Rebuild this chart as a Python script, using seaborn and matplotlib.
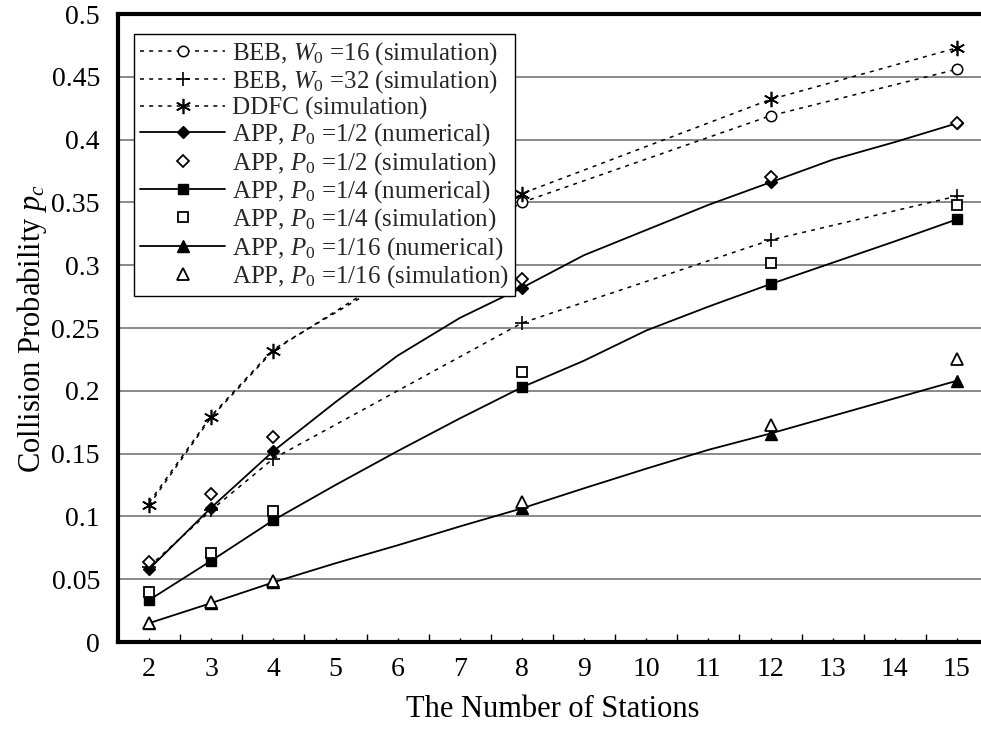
import numpy as np
import pandas as pd
import matplotlib
matplotlib.use("Agg")
import matplotlib.pyplot as plt
import seaborn as sns
from matplotlib.ticker import FixedLocator, FuncFormatter

# ---------------- data ----------------
stations_all = [2, 3, 4, 5, 6, 7, 8, 9, 10, 11, 12, 13, 14, 15]
stations_sim = [2, 3, 4, 8, 12, 15]

beb16_sim = [0.111, 0.180, 0.233, 0.350, 0.419, 0.456]
beb32_sim = [0.060, 0.105, 0.146, 0.254, 0.320, 0.355]
ddfc_sim = [0.109, 0.179, 0.232, 0.357, 0.432, 0.473]

app2_num = [0.058, 0.107, 0.152, 0.191, 0.228, 0.258, 0.282, 0.308, 0.328, 0.348, 0.366, 0.384, 0.398, 0.413]
app2_sim = [0.064, 0.118, 0.163, 0.289, 0.370, 0.413]
app4_num = [0.0334, 0.0647, 0.097, 0.125, 0.152, 0.178, 0.2028, 0.224, 0.248, 0.267, 0.285, 0.302, 0.319, 0.3365]
app4_sim = [0.040, 0.0706, 0.104, 0.215, 0.3015, 0.348]
app16_num = [0.015, 0.031, 0.0475, 0.0627, 0.077, 0.092, 0.1064, 0.1224, 0.138, 0.153, 0.166, 0.180, 0.194, 0.208]
app16_sim = [0.0154, 0.032, 0.0486, 0.1117, 0.1728, 0.225]

labels = [
    r"BEB, $\mathit{W}_{\mathit{0}}$ =16 (simulation)",
    r"BEB, $\mathit{W}_{\mathit{0}}$ =32 (simulation)",
    "DDFC (simulation)",
    r"APP, $\mathit{P}_{\mathit{0}}$ =1/2 (numerical)",
    r"APP, $\mathit{P}_{\mathit{0}}$ =1/2 (simulation)",
    r"APP, $\mathit{P}_{\mathit{0}}$ =1/4 (numerical)",
    r"APP, $\mathit{P}_{\mathit{0}}$ =1/4 (simulation)",
    r"APP, $\mathit{P}_{\mathit{0}}$ =1/16 (numerical)",
    r"APP, $\mathit{P}_{\mathit{0}}$ =1/16 (simulation)",
]
y_ticks = [0, 0.05, 0.1, 0.15, 0.2, 0.25, 0.3, 0.35, 0.4, 0.45, 0.5]

# ---------------- style ----------------
sns.set_theme(style="white")
plt.rcParams["font.family"] = ["Liberation Serif", "DejaVu Serif"]
plt.rcParams["mathtext.fontset"] = "custom"
plt.rcParams["mathtext.rm"] = "Liberation Serif"
plt.rcParams["mathtext.it"] = "Liberation Serif:italic"
plt.rcParams["mathtext.bf"] = "Liberation Serif:bold"

W, H = 981, 740
fig = plt.figure(figsize=(W / 100, H / 100), dpi=100)
left, right, top, bottom = 118, 988, 14, 642
ax = fig.add_axes([left / W, (H - bottom) / H, (right - left) / W, (bottom - top) / H])

mark_idx = [stations_all.index(s) for s in stations_sim]
dash = (0, (2.6, 3.4))
lw_d = 1.1
lw_s = 1.3

def sim_line(y, marker, ms, label, mew=1.1, every=None):
    df = pd.DataFrame({"x": stations_sim, "y": y})
    sns.lineplot(data=df, x="x", y="y", ax=ax, color="black", lw=lw_d, linestyle=dash,
                 marker=marker, markersize=ms, markerfacecolor="white", markeredgecolor="black",
                 markeredgewidth=mew, markevery=every, label=label, errorbar=None, sort=False, zorder=4)

def num_line(y, marker, ms, label):
    df = pd.DataFrame({"x": stations_all, "y": y})
    sns.lineplot(data=df, x="x", y="y", ax=ax, color="black", lw=lw_s, linestyle="-",
                 marker=marker, markersize=ms, markerfacecolor="black", markeredgecolor="black",
                 markeredgewidth=1.0, markevery=mark_idx, label=label, errorbar=None, sort=False, zorder=5)

def sim_pts(y, marker, ms, label):
    df = pd.DataFrame({"x": stations_sim, "y": y})
    sns.lineplot(data=df, x="x", y="y", ax=ax, color="black", linestyle="none",
                 marker=marker, markersize=ms, markerfacecolor="white", markeredgecolor="black",
                 markeredgewidth=1.3, label=label, errorbar=None, sort=False, zorder=6)

sim_line(beb16_sim, "o", 7.5, labels[0], every=[3, 4, 5])
sim_line(beb32_sim, "+", 10, labels[1], mew=1.2)
sim_line(ddfc_sim, (6, 2, 0), 11, labels[2], mew=1.2)
num_line(app2_num, "D", 6.5, labels[3])
sim_pts(app2_sim, "D", 6.5, labels[4])
num_line(app4_num, "s", 7.5, labels[5])
sim_pts(app4_sim, "s", 7.5, labels[6])
num_line(app16_num, "^", 9, labels[7])
sim_pts(app16_sim, "^", 9, labels[8])

# ---------------- axes ----------------
ax.set_xlim(1.5, 15.5)
ax.set_ylim(0, 0.5)
ax.xaxis.set_major_locator(FixedLocator(stations_all))
ax.xaxis.set_minor_locator(FixedLocator([s + 0.5 for s in stations_all[:-1]]))
ax.yaxis.set_major_locator(FixedLocator(y_ticks))
ax.yaxis.set_major_formatter(FuncFormatter(lambda v, p: f"{v:g}"))
ax.tick_params(axis="x", which="major", direction="in", length=3, width=1.0, color="black",
               labelsize=20, pad=11, labelcolor="black", bottom=True)
ax.tick_params(axis="x", which="minor", direction="in", length=6, width=1.0, color="black", bottom=True)
ax.tick_params(axis="y", which="both", length=0, labelsize=20, pad=13, labelcolor="black")

ax.grid(axis="y", which="major", color="#808080", lw=1.3)
ax.set_axisbelow(True)
for s in ["left", "bottom", "top", "right"]:
    ax.spines[s].set_color("black")
    ax.spines[s].set_linewidth(3.0)
    ax.spines[s].set_visible(True)

ax.set_xlabel("The Number of Stations", fontsize=22, labelpad=9, color="black")
ax.set_ylabel(r"Collision Probability $\mathit{p}_{\mathit{c}}$", fontsize=22, labelpad=2, color="black")

leg = ax.legend(loc="upper left", bbox_to_anchor=(16 / 870, (642 - 34) / 628), borderaxespad=0,
                fontsize=18, frameon=True, fancybox=False, framealpha=1, edgecolor="black",
                handlelength=3.4, handletextpad=0.25, labelspacing=0.06, borderpad=0.25)
leg.get_frame().set_linewidth(1.0)
leg.set_zorder(10)

fig.savefig("out.png", dpi=100)
